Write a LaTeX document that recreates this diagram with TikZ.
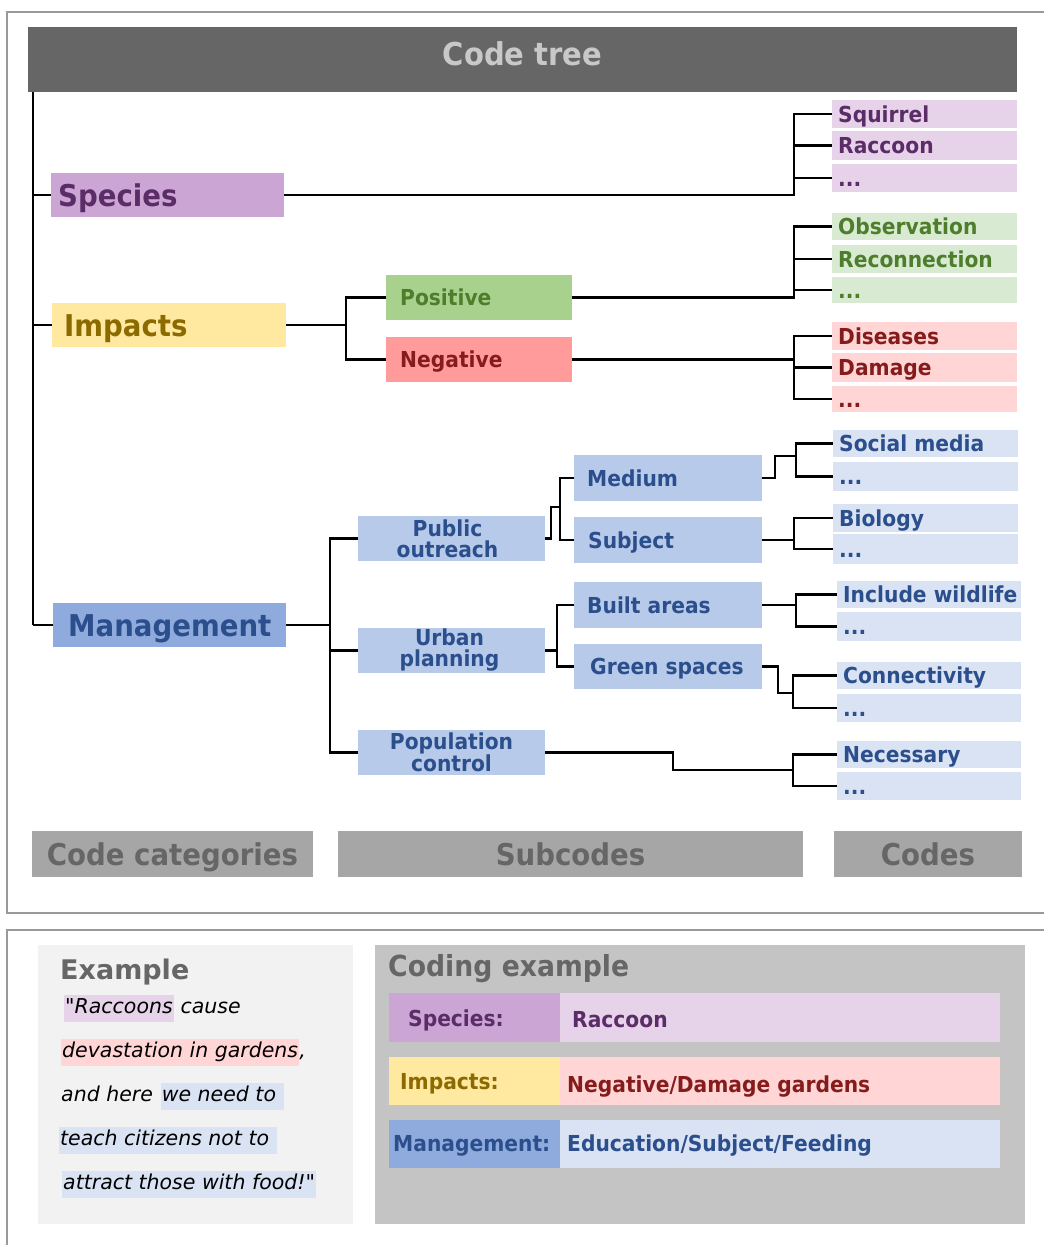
\documentclass[tikz,border=0pt]{standalone}
\usepackage{fontspec}
\newfontfamily\tfam{DejaVu Sans}[FakeStretch=0.92]
\newfontfamily\vfam{DejaVu Sans}
\definecolor{cTitle}{HTML}{666666}
\definecolor{cTitleT}{HTML}{C8C8C8}
\definecolor{cLab}{HTML}{A6A6A6}
\definecolor{cLabT}{HTML}{666666}
\definecolor{spD}{HTML}{CBA6D4}
\definecolor{spL}{HTML}{E6D3E9}
\definecolor{spT}{HTML}{5B2C68}
\definecolor{imD}{HTML}{FFE8A0}
\definecolor{imT}{HTML}{8B6A00}
\definecolor{poD}{HTML}{A9D18E}
\definecolor{poL}{HTML}{D8EBD2}
\definecolor{poT}{HTML}{4E7D2C}
\definecolor{ngD}{HTML}{FF9B9B}
\definecolor{ngL}{HTML}{FFD5D5}
\definecolor{ngT}{HTML}{861B1B}
\definecolor{mgD}{HTML}{8FAADC}
\definecolor{mgM}{HTML}{B8CAEA}
\definecolor{mgL}{HTML}{DAE3F3}
\definecolor{mgT}{HTML}{2B4E8C}
\definecolor{exBg}{HTML}{F2F2F2}
\definecolor{ceBg}{HTML}{C4C4C4}
\definecolor{frameC}{HTML}{999999}
\newcommand\mkbox[6]{%
  \pgfmathsetmacro\bw{#4-#2}\pgfmathsetmacro\bh{#5-#3}%
  \node[bx, fill=#6, minimum width=\bw pt, minimum height=\bh pt] (#1) at (#2,#3) {};}
\newcommand\codebox[8]{%
  \mkbox{#1}{#2}{#3}{#4}{#5}{#6}%
  \node[midt, text=#7, anchor=west] at ([xshift=6pt]#1.west) {#8};}
\begin{document}
\begin{tikzpicture}[x=1pt,y=-1pt,
  bx/.style={inner sep=0pt, outer sep=0pt, anchor=north west, draw=none},
  conn/.style={line width=2.6pt, black, line join=miter},
  bigt/.style={font=\tfam\bfseries\fontsize{30}{30}\selectfont, inner sep=0pt, text height=22pt, text depth=0pt},
  midt/.style={font=\tfam\bfseries\fontsize{22}{22}\selectfont, inner sep=0pt, text height=16pt, text depth=0pt},
  twot/.style={font=\tfam\bfseries\fontsize{22}{21}\selectfont, inner sep=0pt, align=center, text=mgT},
  qt/.style={font=\vfam\itshape\fontsize{20.5}{20.5}\selectfont, inner xsep=1pt, inner ysep=0pt, text height=15pt, text depth=5pt, minimum height=27pt, anchor=west, text=black}]
\useasboundingbox (0,0) rectangle (1044,1245);
\fill[white] (0,0) rectangle (1044,1245);
% frames
\draw[frameC, line width=1.2pt] (7,12) rectangle (1048,913);
\draw[frameC, line width=1.2pt] (7,1250) -- (7,930) -- (1048,930);
% title
\mkbox{title}{28}{27}{1017}{92}{cTitle}
\node[font=\tfam\bfseries\fontsize{31.5}{31.5}\selectfont, text=cTitleT, inner sep=0pt, text height=22pt, text depth=0pt] at ([yshift=5pt]title.center) {Code tree};
% categories
\mkbox{species}{51}{173}{284}{217}{spD}
\node[bigt, text=spT, anchor=west] at ([xshift=7pt]species.west) {Species};
\mkbox{impacts}{52}{303}{286}{347}{imD}
\node[bigt, text=imT, anchor=west] at ([xshift=12pt]impacts.west) {Impacts};
\mkbox{management}{53}{603}{286}{647}{mgD}
\node[bigt, text=mgT, anchor=west] at ([xshift=15pt]management.west) {Management};
% subcodes
\mkbox{pos}{386}{275}{572}{320}{poD}
\node[midt, text=poT, anchor=west] at ([xshift=14pt]pos.west) {Positive};
\mkbox{neg}{386}{337}{572}{382}{ngD}
\node[midt, text=ngT, anchor=west] at ([xshift=14pt]neg.west) {Negative};
\mkbox{pub}{358}{516}{545}{561}{mgM}
\node[twot] at ([xshift=-4pt]pub.center) {Public\\outreach};
\mkbox{urb}{358}{628}{545}{673}{mgM}
\node[twot] at ([xshift=-2pt]urb.center) {Urban\\planning};
\mkbox{pop}{358}{730}{545}{775}{mgM}
\node[twot] at (pop.center) {Population\\control};
\mkbox{medium}{574}{455}{762}{501}{mgM}
\node[midt, text=mgT, anchor=west] at ([xshift=13pt]medium.west) {Medium};
\mkbox{subject}{574}{517}{762}{563}{mgM}
\node[midt, text=mgT, anchor=west] at ([xshift=14pt]subject.west) {Subject};
\mkbox{built}{574}{582}{762}{628}{mgM}
\node[midt, text=mgT, anchor=west] at ([xshift=13pt]built.west) {Built areas};
\mkbox{green}{574}{644}{762}{689}{mgM}
\node[midt, text=mgT, anchor=west] at ([xshift=16pt]green.west) {Green spaces};
% codes
\codebox{sq}{832}{100}{1017}{128}{spL}{spT}{Squirrel}
\codebox{rc}{832}{131}{1017}{160}{spL}{spT}{Raccoon}
\codebox{sd}{832}{164}{1017}{192}{spL}{spT}{...}
\codebox{ob}{832}{213}{1017}{240}{poL}{poT}{Observation}
\codebox{re}{832}{245}{1017}{273}{poL}{poT}{Reconnection}
\codebox{pd}{832}{277}{1017}{303}{poL}{poT}{...}
\codebox{di}{832}{322}{1017}{350}{ngL}{ngT}{Diseases}
\codebox{dm}{832}{353}{1017}{382}{ngL}{ngT}{Damage}
\codebox{nd}{832}{386}{1017}{412}{ngL}{ngT}{...}
\codebox{sm}{833}{430}{1018}{457}{mgL}{mgT}{Social media}
\codebox{md}{833}{462}{1018}{491}{mgL}{mgT}{...}
\codebox{bi}{833}{504}{1018}{532}{mgL}{mgT}{Biology}
\codebox{bd}{833}{534}{1018}{564}{mgL}{mgT}{...}
\codebox{iw}{837}{581}{1021}{608}{mgL}{mgT}{Include wildlife}
\codebox{id}{837}{612}{1021}{641}{mgL}{mgT}{...}
\codebox{cn}{837}{662}{1021}{689}{mgL}{mgT}{Connectivity}
\codebox{cd}{837}{694}{1021}{722}{mgL}{mgT}{...}
\codebox{ne}{837}{741}{1021}{768}{mgL}{mgT}{Necessary}
\codebox{ned}{837}{772}{1021}{800}{mgL}{mgT}{...}
% connectors
\coordinate (trunk) at (33,0);
\draw[conn] (trunk |- title.south) -- (trunk |- management.west);
\draw[conn] (trunk |- species.west) -- (species.west);
\draw[conn] (trunk |- impacts.west) -- (impacts.west);
\draw[conn] (trunk |- management.west) -- (management.west);
% species
\coordinate (jS) at (794,0);
\draw[conn] (species.east) -| (jS |- sq.west) -- (sq.west);
\draw[conn] (jS |- rc.west) -- (rc.west);
\draw[conn] (jS |- sd.west) -- (sd.west);
% impacts
\coordinate (jI) at (346,0);
\draw[conn] (impacts.east) -- (jI |- impacts.east);
\draw[conn] (pos.west) -| (jI |- neg.west) -- (neg.west);
\coordinate (jP) at (794,0);
\draw[conn] (pos.east) -| (jP |- ob.west) -- (ob.west);
\draw[conn] (jP |- re.west) -- (re.west);
\draw[conn] (jP |- pd.west) -- (pd.west);
\draw[conn] (neg.east) -- (jP |- neg.east);
\draw[conn] (di.west) -| (jP |- nd.west) -- (nd.west);
\draw[conn] (jP |- dm.west) -- (dm.west);
% management
\coordinate (jM) at (330,0);
\draw[conn] (management.east) -- (jM |- management.east);
\draw[conn] (pub.west) -| (jM |- pop.west) -- (pop.west);
\draw[conn] (jM |- urb.west) -- (urb.west);
\coordinate (jPO) at (560,507);
\draw[conn] (pub.east) -- ++(6,0) |- (jPO);
\draw[conn] (medium.west) -| (jPO |- subject.west) -- (subject.west);
\coordinate (jMe) at (796,456);
\draw[conn] (medium.east) -- ++(13,0) |- (jMe);
\draw[conn] (sm.west) -| (jMe |- md.west) -- (md.west);
\coordinate (jSu) at (794,0);
\draw[conn] (subject.east) -- (jSu |- subject.east);
\draw[conn] (bi.west) -| (jSu |- bd.west) -- (bd.west);
\coordinate (jU) at (557,0);
\draw[conn] (urb.east) -- (jU |- urb.east);
\draw[conn] (built.west) -| (jU |- green.west) -- (green.west);
\coordinate (jB) at (796,0);
\draw[conn] (built.east) -- (jB |- built.east);
\draw[conn] (iw.west) -| (jB |- id.west) -- (id.west);
\coordinate (jG) at (793,693);
\draw[conn] (green.east) -- ++(16,0) |- (jG);
\draw[conn] (cn.west) -| (jG |- cd.west) -- (cd.west);
\coordinate (kPc) at (673,770);
\coordinate (jPc) at (793,770);
\draw[conn] (pop.east) -| (kPc) -- (jPc);
\draw[conn] (ne.west) -| (jPc |- ned.west) -- (ned.west);
% column labels
\mkbox{lcat}{32}{831}{313}{877}{cLab}
\node[bigt, text=cLabT] at (lcat.center) {Code categories};
\mkbox{lsub}{338}{831}{803}{877}{cLab}
\node[bigt, text=cLabT] at (lsub.center) {Subcodes};
\mkbox{lcod}{834}{831}{1022}{877}{cLab}
\node[bigt, text=cLabT] at (lcod.center) {Codes};
% example panel
\mkbox{expanel}{38}{945}{353}{1224}{exBg}
\node[font=\vfam\bfseries\fontsize{27}{27}\selectfont, text=cLabT, inner sep=0pt, text height=20pt, text depth=0pt, anchor=west] at (60,969) {Example};
\node[qt, fill=spL] (q1a) at (64,1008) {"Raccoons};
\node[qt, inner xsep=0pt] at (q1a.east) {\ cause};
\node[qt, fill=ngL] (q2a) at (61,1052) {devastation in gardens};
\node[qt, inner xsep=0pt] at (q2a.east) {,};
\node[qt] (q3a) at (60,1096) {and here\ \hbox{}};
\node[qt, fill=mgL] at (q3a.east) {we need to\ \hbox{}};
\node[qt, fill=mgL] at (59,1140) {teach citizens not to\ \hbox{}};
\node[qt, fill=mgL] at (62,1184) {attract those with food!"};
% coding example panel
\mkbox{cepanel}{375}{945}{1025}{1224}{ceBg}
\node[font=\tfam\bfseries\fontsize{29}{29}\selectfont, text=cLabT, inner sep=0pt, text height=21pt, text depth=0pt, anchor=west] at (388,966) {Coding example};
\mkbox{rsL}{389}{993}{560}{1042}{spD}
\mkbox{rsV}{560}{993}{1000}{1042}{spL}
\node[midt, text=spT, anchor=west] at (408,1018) {Species:};
\node[midt, text=spT, anchor=west] at (572,1019) {Raccoon};
\mkbox{riL}{389}{1057}{560}{1105}{imD}
\mkbox{riV}{560}{1057}{1000}{1105}{ngL}
\node[midt, text=imT, anchor=west] at (400,1081) {Impacts:};
\node[midt, text=ngT, anchor=west] at (567,1084) {Negative/Damage gardens};
\mkbox{rmL}{389}{1120}{560}{1168}{mgD}
\mkbox{rmV}{560}{1120}{1000}{1168}{mgL}
\node[midt, text=mgT, anchor=west] at (393,1143) {Management:};
\node[midt, text=mgT, anchor=west] at (567,1143) {Education/Subject/Feeding};
\end{tikzpicture}
\end{document}
